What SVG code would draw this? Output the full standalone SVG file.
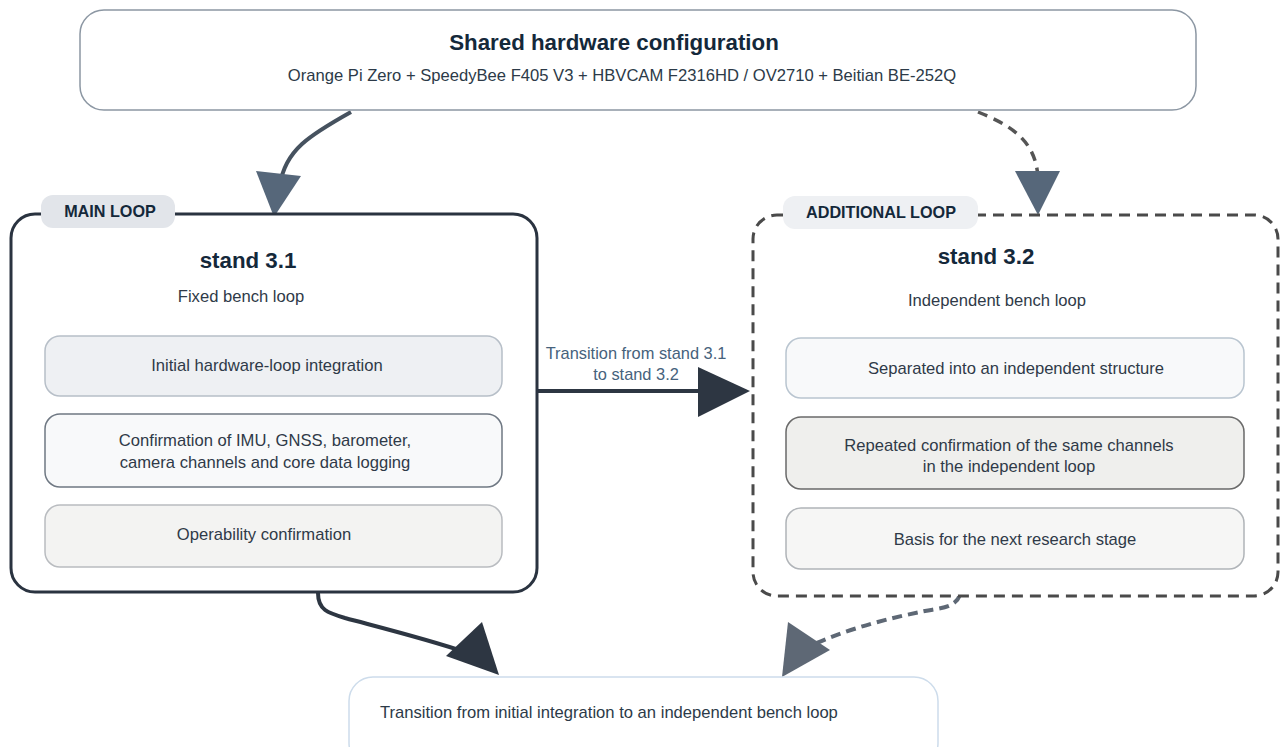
<svg xmlns="http://www.w3.org/2000/svg" width="1283" height="747" viewBox="0 0 1283 747">
<style>
text{font-family:"Liberation Sans",Arial,sans-serif;}
.title{font-weight:bold;font-size:22.3px;fill:#14283a;text-anchor:middle;}
.sub{font-size:16.6px;fill:#2c3a48;text-anchor:middle;}
.body{font-size:16.6px;fill:#2f3a48;text-anchor:middle;}
.pill{fill:#e2e5ea;}
.pilltxt{font-weight:bold;font-size:16.2px;fill:#14283a;text-anchor:middle;}
.lbl{font-size:16.4px;fill:#46627c;text-anchor:middle;}
</style>
<rect width="1283" height="747" fill="#ffffff"/>
<g id="connectors">
  <path d="M351,112 C310,135 285,150 280,185" fill="none" stroke="#46525f" stroke-width="4"/>
  <polygon points="256,171 301,176 274,217" fill="#56677a"/>
  <path d="M978,112 C1010,125 1036,140 1038,178" fill="none" stroke="#555555" stroke-width="3.5" stroke-dasharray="10,7"/>
  <polygon points="1015,171 1060,171 1038,215" fill="#56677a"/>
  <path d="M538,391 L705,391" fill="none" stroke="#2d3642" stroke-width="4"/>
  <polygon points="698,367 750,391 698,417" fill="#2d3642"/>
  <path d="M318,593 C318,610 328,613 345,618 C390,630 430,640 465,652" fill="none" stroke="#2d3642" stroke-width="4"/>
  <polygon points="446,656 482,622 499,675" fill="#2d3642"/>
  <path d="M960,595 C955,608 940,608 925,611 C890,618 850,628 812,645" fill="none" stroke="#5e6875" stroke-width="4" stroke-dasharray="10,6"/>
  <polygon points="788,622 830,650 782,677" fill="#5e6875"/>
  <text class="lbl" x="636" y="359">Transition from stand 3.1</text>
  <text class="lbl" x="636" y="380">to stand 3.2</text>
</g>
<g id="shared">
  <rect x="80" y="10" width="1116" height="100" rx="24" fill="#ffffff" stroke="#8c97a3" stroke-width="1.5"/>
  <text class="title" x="614" y="50">Shared hardware configuration</text>
  <text class="sub" x="622" y="81">Orange Pi Zero + SpeedyBee F405 V3 + HBVCAM F2316HD / OV2710 + Beitian BE-252Q</text>
</g>
<g id="stand31">
  <rect x="11" y="214" width="526" height="378" rx="24" fill="#ffffff" stroke="#2a3340" stroke-width="3"/>
  <rect class="pill" x="41" y="195" width="134" height="33" rx="12"/>
  <text class="pilltxt" x="110" y="217">MAIN LOOP</text>
  <text class="title" x="248" y="268">stand 3.1</text>
  <text class="body" x="241" y="302">Fixed bench loop</text>
  <g id="s31a">
    <rect x="45" y="336" width="457" height="60" rx="15" fill="#eef0f3" stroke="#b7bfc8" stroke-width="1.5"/>
    <text class="body" x="267" y="371">Initial hardware-loop integration</text>
  </g>
  <g id="s31b">
    <rect x="45" y="414" width="457" height="73" rx="15" fill="#f8f9fa" stroke="#6f7883" stroke-width="1.5"/>
    <text class="body" x="265" y="446">Confirmation of IMU, GNSS, barometer,</text>
    <text class="body" x="265" y="468">camera channels and core data logging</text>
  </g>
  <g id="s31c">
    <rect x="45" y="505" width="457" height="62" rx="15" fill="#f3f3f2" stroke="#b9bcc0" stroke-width="1.5"/>
    <text class="body" x="264" y="540">Operability confirmation</text>
  </g>
</g>
<g id="stand32">
  <rect x="753" y="215" width="525" height="381" rx="24" fill="#ffffff" stroke="#4a4a4a" stroke-width="3" stroke-dasharray="11,7"/>
  <rect x="783" y="196" width="195" height="33" rx="12" fill="#eef0f3"/>
  <text class="pilltxt" x="881" y="218">ADDITIONAL LOOP</text>
  <text class="title" x="986" y="264">stand 3.2</text>
  <text class="body" x="997" y="306">Independent bench loop</text>
  <g id="s32a">
    <rect x="786" y="338" width="458" height="60" rx="15" fill="#f8f9fa" stroke="#b9c5d0" stroke-width="1.5"/>
    <text class="body" x="1016" y="374">Separated into an independent structure</text>
  </g>
  <g id="s32b">
    <rect x="786" y="417" width="458" height="72" rx="15" fill="#efefed" stroke="#6a6a6a" stroke-width="1.5"/>
    <text class="body" x="1009" y="451">Repeated confirmation of the same channels</text>
    <text class="body" x="1009" y="472">in the independent loop</text>
  </g>
  <g id="s32c">
    <rect x="786" y="508" width="458" height="61" rx="15" fill="#f6f6f5" stroke="#b0b4b8" stroke-width="1.5"/>
    <text class="body" x="1015" y="545">Basis for the next research stage</text>
  </g>
</g>
<g id="result">
  <rect x="349" y="677" width="589" height="90" rx="24" fill="#ffffff" stroke="#cddceb" stroke-width="1.5"/>
  <text x="380" y="718" style="font-size:16.6px;fill:#2c3a48;">Transition from initial integration to an independent bench loop</text>
</g>
</svg>
